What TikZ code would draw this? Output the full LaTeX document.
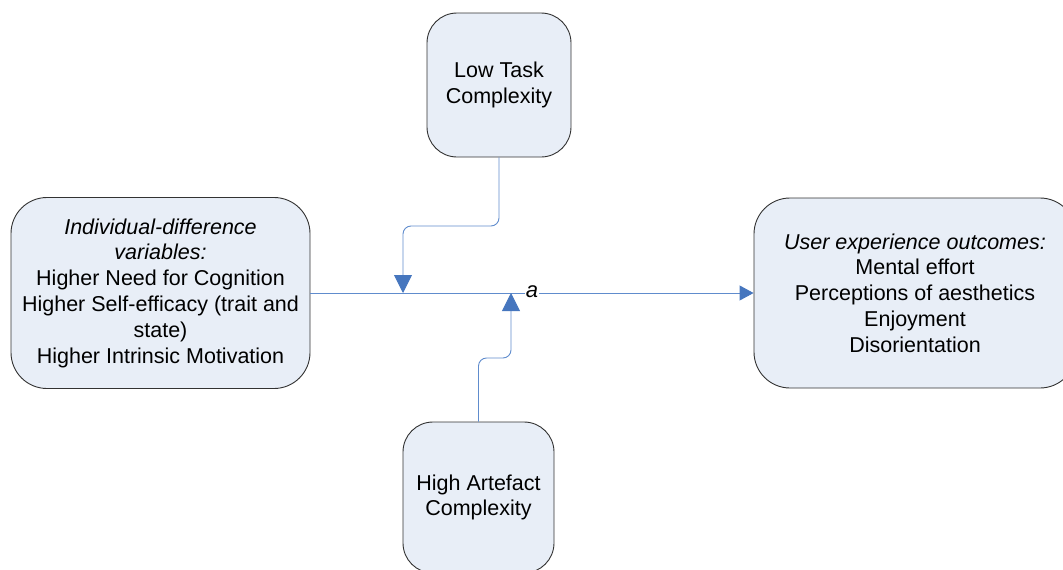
\documentclass[tikz,border=0pt]{standalone}
\usepackage{fontspec}
\setmainfont{Liberation Sans}
\usetikzlibrary{arrows.meta}
\definecolor{linec}{RGB}{96,140,205}
\definecolor{arrc}{RGB}{70,118,190}
\definecolor{boxfill}{RGB}{232,238,247}
\definecolor{boxline}{RGB}{50,50,50}
\begin{document}
\begin{tikzpicture}[x=1pt,y=-1pt,
  box/.style={draw=boxline, line width=0.9pt, fill=boxfill, rectangle, align=center,
    font=\fontsize{21.5}{25.8}\selectfont, inner sep=0pt},
  conn/.style={draw=linec, line width=0.9pt, rounded corners=8pt},
  bigtip/.style={-{Triangle[width=18pt,length=18pt,fill=arrc,color=arrc]}},
  smalltip/.style={-{Triangle[width=15pt,length=14pt,fill=arrc,color=arrc]}},
  lbl/.style={fill=white, inner sep=1pt, font=\fontsize{22}{26}\selectfont\itshape}]
\useasboundingbox (0,0) rectangle (1063,570);
\node[box, rounded corners=30pt, minimum width=144pt, minimum height=144pt] (low) at (499,85) {Low Task\\Complexity};
\node[box, rounded corners=36pt, minimum width=299pt, minimum height=191pt] (left) at (160.5,293) {\itshape Individual-difference\\\itshape variables:\\Higher Need for Cognition\\Higher Self-efficacy (trait and\\state)\\Higher Intrinsic Motivation};
\node[box, rounded corners=36pt, minimum width=322pt, minimum height=190pt] (right) at (915,293) {\itshape User experience outcomes:\\Mental effort\\Perceptions of aesthetics\\Enjoyment\\Disorientation};
\node[box, rounded corners=30pt, minimum width=151pt, minimum height=151pt] (high) at (478.5,497.5) {High Artefact\\Complexity};
\coordinate (k1) at (403,226);
\coordinate (t1) at (403,293);
\coordinate (k2) at (511,358);
\coordinate (t2) at (511,293);
\draw[conn, smalltip] (left.east) -- (right.west);
\node[lbl] (a) at (532,292) {a};
\draw[conn, bigtip] (low.south) |- (k1) -- (t1);
\draw[conn, bigtip] (high.north) |- (k2) -- (t2);
\end{tikzpicture}
\end{document}
